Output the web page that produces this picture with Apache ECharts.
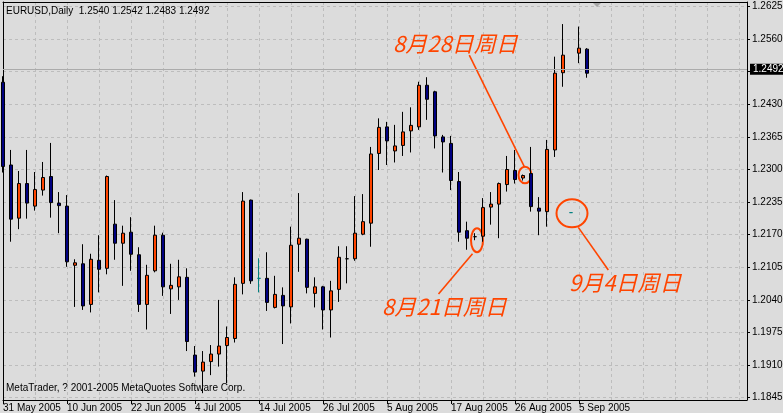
<!DOCTYPE html>
<html>
<head>
<meta charset="utf-8">
<script src="https://cdn.jsdelivr.net/npm/echarts@6/dist/echarts.min.js"></script>
<style>
html, body { margin: 0; padding: 0; background: #dcdcdc; }
#chart { width: 783px; height: 413px; }
</style>
</head>
<body>
<div id="chart"></div>
<script>
// EURUSD daily bars (MetaTrader, incl. the Sunday bars)
const dates = [
  '31 May 2005','1 Jun 2005','2 Jun 2005','3 Jun 2005','6 Jun 2005','7 Jun 2005','8 Jun 2005','9 Jun 2005',
  '10 Jun 2005','13 Jun 2005','14 Jun 2005','15 Jun 2005','16 Jun 2005','17 Jun 2005','20 Jun 2005','21 Jun 2005',
  '22 Jun 2005','23 Jun 2005','24 Jun 2005','27 Jun 2005','28 Jun 2005','29 Jun 2005','30 Jun 2005','1 Jul 2005',
  '4 Jul 2005','5 Jul 2005','6 Jul 2005','7 Jul 2005','8 Jul 2005','11 Jul 2005','12 Jul 2005','13 Jul 2005',
  '14 Jul 2005','15 Jul 2005','18 Jul 2005','19 Jul 2005','20 Jul 2005','21 Jul 2005','22 Jul 2005','25 Jul 2005',
  '26 Jul 2005','27 Jul 2005','28 Jul 2005','29 Jul 2005','1 Aug 2005','2 Aug 2005','3 Aug 2005','4 Aug 2005',
  '5 Aug 2005','8 Aug 2005','9 Aug 2005','10 Aug 2005','11 Aug 2005','12 Aug 2005','15 Aug 2005','16 Aug 2005',
  '17 Aug 2005','18 Aug 2005','19 Aug 2005','21 Aug 2005','22 Aug 2005','23 Aug 2005','24 Aug 2005','25 Aug 2005',
  '26 Aug 2005','28 Aug 2005','29 Aug 2005','30 Aug 2005','31 Aug 2005','1 Sep 2005','2 Sep 2005','4 Sep 2005',
  '5 Sep 2005','6 Sep 2005'
];
const opens = [
  1.2474,1.2309,1.2203,1.2272,1.2227,1.2259,1.2286,1.2233,
  1.2227,1.2109,1.2112,1.2031,1.2119,1.2103,1.2191,1.2153,
  1.2175,1.2130,1.2031,1.2098,1.2169,1.2062,1.2066,1.2085,
  1.1930,1.1898,1.1917,1.1932,1.1949,1.1963,1.2073,1.2239,
  1.2083,1.2083,1.2025,1.2049,1.2026,1.2151,1.2161,1.2053,
  1.2066,1.2020,1.2061,1.2122,1.2122,1.2171,1.2193,1.2332,
  1.2385,1.2337,1.2348,1.2377,1.2385,1.2468,1.2455,1.2365,
  1.2352,1.2276,1.2178,1.2166,1.2167,1.2225,1.2231,1.2270,
  1.2298,1.2283,1.2292,1.2223,1.2216,1.2339,1.2493,1.2214,
  1.2532,1.2540
];
const closes = [
  1.2306,1.2201,1.2272,1.2233,1.2260,1.2284,1.2234,1.2228,
  1.2116,1.2114,1.2028,1.2121,1.2101,1.2286,1.2153,1.2173,
  1.2131,1.2031,1.2089,1.2169,1.2066,1.2069,1.2086,1.1957,
  1.1896,1.1916,1.1932,1.1948,1.1965,1.2071,1.2237,1.2078,
  1.2083,1.2035,1.2051,1.2028,1.2149,1.2163,1.2065,1.2066,
  1.2020,1.2058,1.2125,1.2122,1.2173,1.2196,1.2331,1.2384,
  1.2357,1.2347,1.2375,1.2388,1.2468,1.2440,1.2367,1.2355,
  1.2278,1.2175,1.2163,1.2166,1.2224,1.2231,1.2272,1.2300,
  1.2280,1.2288,1.2226,1.2217,1.2340,1.2492,1.2528,1.2214,
  1.2542,1.2492
];
const lows = [
  1.2294,1.2156,1.2181,1.2202,1.2218,1.2248,1.2204,1.2173,
  1.2106,1.2026,1.2020,1.2015,1.2055,1.2091,1.2120,1.2068,
  1.2098,1.2016,1.1981,1.2095,1.2048,1.2012,1.2040,1.1938,
  1.1887,1.1854,1.1890,1.1907,1.1874,1.1955,1.2051,1.2072,
  1.2055,1.2018,1.2023,1.1952,1.1993,1.2096,1.2053,1.2025,
  1.1981,1.1965,1.2036,1.2073,1.2118,1.2169,1.2146,1.2299,
  1.2309,1.2314,1.2327,1.2334,1.2379,1.2399,1.2342,1.2294,
  1.2259,1.2156,1.2140,1.2159,1.2156,1.2190,1.2163,1.2256,
  1.2272,1.2278,1.2216,1.2169,1.2186,1.2325,1.2465,1.2214,
  1.2512,1.2483
];
const highs = [
  1.2486,1.2339,1.2297,1.2339,1.2295,1.2315,1.2353,1.2255,
  1.2249,1.2121,1.2151,1.2132,1.2169,1.2288,1.2239,1.2188,
  1.2205,1.2145,1.2110,1.2188,1.2174,1.2112,1.2120,1.2103,
  1.1948,1.1938,1.1950,1.2040,1.1987,1.2085,1.2255,1.2240,
  1.2123,1.2135,1.2088,1.2065,1.2186,1.2253,1.2162,1.2085,
  1.2068,1.2078,1.2147,1.2147,1.2247,1.2251,1.2345,1.2402,
  1.2395,1.2389,1.2415,1.2424,1.2475,1.2484,1.2457,1.2369,
  1.2367,1.2295,1.2196,1.2173,1.2243,1.2255,1.2274,1.2327,
  1.2339,1.2290,1.2345,1.2245,1.2359,1.2525,1.2590,1.2214,
  1.2585,1.2542
];
const priceTicks = [1.1845, 1.1910, 1.1975, 1.2040, 1.2105, 1.2170, 1.2235, 1.2300, 1.2365, 1.2430, 1.2495, 1.2560, 1.2625];
const tealDoji = ['14 Jul 2005', '4 Sep 2005'];
const notes = [
  { date: '21 Aug 2005', price: 1.2166, text: '8月21日周日' },
  { date: '28 Aug 2005', price: 1.2286, text: '8月28日周日' },
  { date: '4 Sep 2005', price: 1.2214, text: '9月4日周日' }
];

// layout of the hand-drawn notes, pixel offsets from the bar they point at
const noteLayout = [
  { ex: 2, ey: 3.5, rx: 6, ry: 12, line: [-2.5, 17, -36.5, 57.3], tx: -93, ty: 70 },
  { ex: 2, ey: -1.5, rx: 6.5, ry: 8.3, line: [-53.7, -121.5, 1.3, -9.8], tx: -130, ty: -132.5 },
  { ex: 1, ey: 0.7, rx: 15.5, ry: 14, line: [7.3, 14.7, 37.3, 57.4], tx: -2, ty: 70.4 }
];

const shiftBars = 20;
const categories = dates.concat(new Array(shiftBars).fill(''));
const last = dates.length - 1;
const fmt = v => v.toFixed(4);

const FONT = '"Liberation Sans", Arial, sans-serif';
const NOTE_COLOR = '#ff4500';

const candleData = dates.map((d, i) => {
  const item = { value: [opens[i], closes[i], lows[i], highs[i]] };
  if (tealDoji.indexOf(d) >= 0) {
    item.itemStyle = { borderColor: '#008080', borderColor0: '#008080', borderColorDoji: '#008080' };
  }
  return item;
});

const chart = echarts.init(document.getElementById('chart'), null, { renderer: 'canvas' });

const gridLine = { show: true, lineStyle: { color: '#bdbdbd', width: 1, type: [3, 3] } };

chart.setOption({
  animation: false,
  backgroundColor: '#dcdcdc',
  textStyle: { fontFamily: FONT },
  title: [{
    text: `EURUSD,Daily  ${fmt(opens[last])} ${fmt(highs[last])} ${fmt(lows[last])} ${fmt(closes[last])}`,
    left: 6, top: 6, padding: 0,
    textStyle: { fontSize: 10, fontWeight: 'normal', color: '#000', fontFamily: FONT }
  }, {
    text: 'MetaTrader, ? 2001-2005 MetaQuotes Software Corp.',
    left: 6, top: 383, padding: 0,
    textStyle: { fontSize: 10, fontWeight: 'normal', color: '#000', fontFamily: FONT }
  }],
  grid: { left: 3, top: 2, width: 744, height: 398, containLabel: false, outerBoundsMode: 'none' },
  xAxis: [{
    type: 'category',
    data: categories,
    boundaryGap: false,
    position: 'bottom',
    axisLine: { onZero: false, lineStyle: { color: '#000', width: 1 } },
    axisTick: {
      show: true, length: 4,
      interval: (i, v) => v !== '' && i % 8 === 0,
      lineStyle: { color: '#000' }
    },
    axisLabel: {
      interval: 7, align: 'left', margin: 3,
      fontSize: 10, color: '#000', fontFamily: FONT
    },
    splitLine: Object.assign({ interval: 3 }, gridLine)
  }, {
    type: 'category',
    data: categories,
    boundaryGap: false,
    position: 'top',
    axisLine: { onZero: false, lineStyle: { color: '#000', width: 1 } },
    axisTick: { show: false },
    axisLabel: { show: false },
    splitLine: { show: false }
  }],
  yAxis: [{
    type: 'value',
    position: 'right',
    min: 1.18404,
    max: 1.26340,
    axisLine: { show: true, lineStyle: { color: '#000', width: 1 } },
    axisTick: { show: true, length: 3, customValues: priceTicks, lineStyle: { color: '#000' } },
    axisLabel: {
      customValues: priceTicks, formatter: fmt, margin: 5,
      fontSize: 10, color: '#000', fontFamily: FONT
    },
    splitLine: gridLine
  }, {
    type: 'value',
    position: 'left',
    min: 1.18404,
    max: 1.26340,
    axisLine: { show: true, lineStyle: { color: '#000', width: 1 } },
    axisTick: { show: false },
    axisLabel: { show: false },
    splitLine: { show: false }
  }],
  series: [{
    type: 'candlestick',
    xAxisIndex: 0,
    yAxisIndex: 0,
    barWidth: 4,
    data: candleData,
    itemStyle: {
      color: '#ff4500',
      color0: '#000080',
      borderColor: '#000',
      borderColor0: '#000',
      borderWidth: 1
    },
    markLine: {
      silent: true,
      symbol: 'none',
      data: [{ yAxis: closes[last] }],
      lineStyle: { color: '#ababab', width: 1, type: 'solid' },
      label: {
        position: 'end', distance: 3,
        formatter: fmt(closes[last]),
        backgroundColor: '#000', color: '#fff',
        fontSize: 10, fontFamily: FONT,
        padding: [1, 4, 0, 3]
      }
    }
  }]
});

// notes: ellipse round the bar, a pointer line and the italic text
const graphics = [{
  type: 'polygon',
  shape: { points: [[593, 3], [601, 3], [597, 7]] },
  style: { fill: '#a6a6a6' },
  silent: true
}];
notes.forEach((n, k) => {
  const L = noteLayout[k];
  const p = chart.convertToPixel({ xAxisIndex: 0, yAxisIndex: 0 }, [dates.indexOf(n.date), n.price]);
  graphics.push({
    type: 'ellipse',
    shape: { cx: p[0] + L.ex, cy: p[1] + L.ey, rx: L.rx, ry: L.ry },
    style: { fill: 'none', stroke: NOTE_COLOR, lineWidth: 2 },
    silent: true
  });
  graphics.push({
    type: 'line',
    shape: { x1: p[0] + L.line[0], y1: p[1] + L.line[1], x2: p[0] + L.line[2], y2: p[1] + L.line[3] },
    style: { stroke: NOTE_COLOR, lineWidth: 1.6 },
    silent: true
  });
  graphics.push({
    type: 'text',
    x: p[0] + L.tx,
    y: p[1] + L.ty,
    style: {
      text: n.text,
      fill: NOTE_COLOR,
      font: 'italic 22px "Noto Sans CJK SC"',
      align: 'left',
      verticalAlign: 'middle'
    },
    silent: true
  });
});
chart.setOption({ graphic: graphics });
</script>
</body>
</html>
